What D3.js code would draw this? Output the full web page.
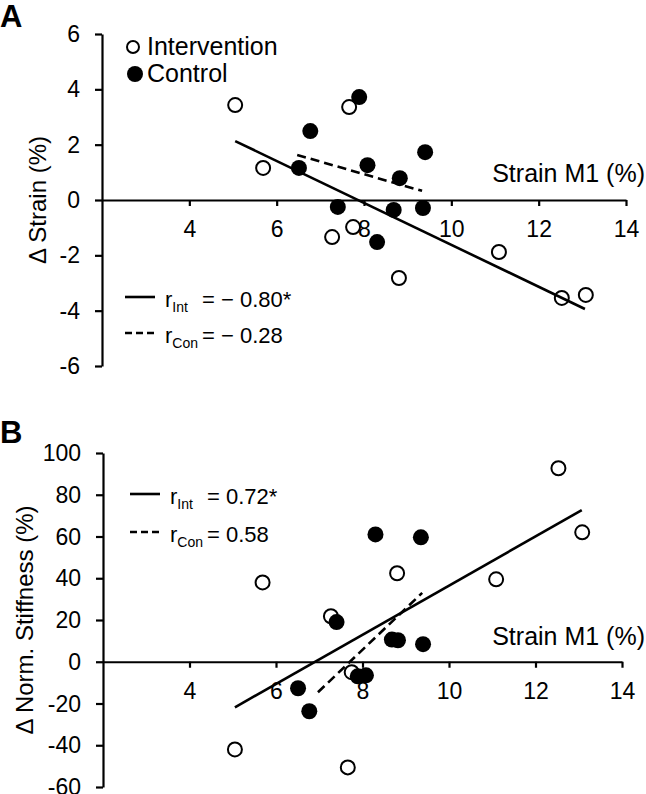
<!DOCTYPE html>
<html>
<head>
<meta charset="utf-8">
<script src="https://cdn.jsdelivr.net/npm/d3@7/dist/d3.min.js"></script>
<style>
  html, body { margin: 0; padding: 0; background: #fff; }
  svg { display: block; }
  text { font-family: "Liberation Sans", Arial, sans-serif; fill: #000; }
</style>
</head>
<body>
<svg id="chart" width="646" height="794"></svg>
<script>
// ---------------- DATA ----------------
const xTicks = [4, 6, 8, 10, 12, 14];
const yTicksA = [-6, -4, -2, 0, 2, 4, 6];
const yTicksB = [-60, -40, -20, 0, 20, 40, 60, 80, 100];

// Intervention group (open circles)
const intStrainM1   = [5.05, 5.69, 7.27, 7.66, 7.75, 8.80, 11.09, 12.53, 13.08];
const intDeltaStrain = [3.43, 1.16, -1.34, 3.36, -0.98, -2.82, -1.88, -3.54, -3.43];
const intDeltaStiff  = [-42.0, 38.0, 21.8, -50.6, -5.0, 42.4, 39.5, 92.7, 62.0];

// Control group (filled circles)
const conStrainM1    = [6.51, 6.77, 7.40, 7.89, 8.08, 8.30, 8.68, 8.82, 9.35, 9.40];
const conDeltaStrain = [1.16, 2.49, -0.25, 3.72, 1.26, -1.52, -0.36, 0.79, -0.29, 1.73];
const conDeltaStiff  = [-12.7, -23.7, 19.0, -7.0, -6.5, 61.0, 10.6, 10.3, 59.6, 8.4];

// Regression lines (endpoints)
const fitIntA = [[5.05, 2.13], [13.06, -3.94]];
const fitConA = [[6.47, 1.63], [9.33, 0.33]];
const fitIntB = [[5.05, -21.8], [13.07, 72.6]];
const fitConB = [[6.97, -14.6], [9.38, 33.0]];

const legendGroups = ["Intervention", "Control"];
const statsA = [{name: "Int", val: "= \u2212 0.80*"}, {name: "Con", val: "= \u2212 0.28"}];
const statsB = [{name: "Int", val: "= 0.72*"}, {name: "Con", val: "= 0.58"}];

// ---------------- DRAW ----------------
const svg = d3.select("#chart");
const zipPts = (xs, ys) => xs.map((x, i) => [x, ys[i]]);

function panel(cfg) {
  const g = svg.append("g");
  const x = d3.scaleLinear().domain([2, 14]).range(cfg.xr);
  const y = d3.scaleLinear().domain(cfg.ydom).range(cfg.yr);

  // x axis at y = 0
  const xa = g.append("g")
    .attr("transform", `translate(0,${y(0)})`)
    .call(d3.axisBottom(x).tickValues(xTicks).tickSize(6).tickSizeOuter(0).tickPadding(15).tickFormat(d => String(d)));
  // y axis
  const ya = g.append("g")
    .attr("transform", `translate(${x(2)},0)`)
    .call(d3.axisLeft(y).tickValues(cfg.yTicks).tickSize(7).tickSizeOuter(0).tickPadding(15).tickFormat(d => String(d)));
  [xa, ya].forEach(a => {
    a.select(".domain").attr("stroke", "#000").attr("stroke-width", 2.2);
    a.selectAll(".tick line").attr("stroke", "#000").attr("stroke-width", 2.2);
    a.selectAll(".tick text").style("font-size", "23px").attr("fill", "#000")
      .style("font-family", "'Liberation Sans', Arial, sans-serif");
  });
  ya.selectAll(".tick text").attr("dy", "0.33em");

  // axis titles
  g.append("text").attr("x", 645).attr("y", cfg.xTitleY).attr("text-anchor", "end")
    .style("font-size", "25px").text("Strain M1 (%)");
  g.append("text")
    .attr("transform", `translate(${cfg.yTitleX},${(cfg.yr[0] + cfg.yr[1]) / 2}) rotate(-90)`)
    .attr("text-anchor", "middle").style("font-size", "24px").text(cfg.yTitle);

  // panel letter
  g.append("text").attr("x", 0).attr("y", cfg.letterY).style("font-size", "31px")
    .style("font-weight", "bold").text(cfg.letter);

  // points
  g.selectAll("circle.int").data(zipPts(intStrainM1, cfg.intY)).join("circle")
    .attr("class", "int").attr("cx", d => x(d[0])).attr("cy", d => y(d[1])).attr("r", 7)
    .attr("fill", "#fff").attr("stroke", "#000").attr("stroke-width", 2);
  g.selectAll("circle.con").data(zipPts(conStrainM1, cfg.conY)).join("circle")
    .attr("class", "con").attr("cx", d => x(d[0])).attr("cy", d => y(d[1])).attr("r", 8)
    .attr("fill", "#000");

  // fit lines
  const line = d3.line().x(d => x(d[0])).y(d => y(d[1]));
  g.append("path").attr("d", line(cfg.fitInt)).attr("stroke", "#000").attr("stroke-width", 2.6).attr("fill", "none");
  g.append("path").attr("d", line(cfg.fitCon)).attr("stroke", "#000").attr("stroke-width", 2.6)
    .attr("stroke-dasharray", "9,5").attr("fill", "none");

  // stats legend
  cfg.stats.forEach((s, i) => {
    const ly = cfg.statY + i * cfg.statGap;
    g.append("line").attr("x1", cfg.statX).attr("x2", cfg.statX + 30).attr("y1", ly).attr("y2", ly)
      .attr("stroke", "#000").attr("stroke-width", 2.6)
      .attr("stroke-dasharray", i === 0 ? null : "7,4");
    const t = g.append("text").attr("x", cfg.statX + 40).attr("y", ly + 10).style("font-size", "22px");
    t.append("tspan").text("r");
    t.append("tspan").attr("dy", 5).style("font-size", "14px").text(s.name);
    t.append("tspan").attr("x", cfg.statX + cfg.eqOff).attr("dy", -5).text(s.val);
  });
  return {g, x, y};
}

const A = panel({
  xr: [102, 626], ydom: [-6, 6], yr: [366, 34], yTicks: yTicksA,
  intY: intDeltaStrain, conY: conDeltaStrain, fitInt: fitIntA, fitCon: fitConA,
  xTitleY: 182, yTitle: "\u0394 Strain (%)", yTitleX: 46, letter: "A", letterY: 27,
  stats: statsA, statX: 125, statY: 297, statGap: 36, eqOff: 77
});
const B = panel({
  xr: [103, 622], ydom: [-60, 100], yr: [787, 453], yTicks: yTicksB,
  intY: intDeltaStiff, conY: conDeltaStiff, fitInt: fitIntB, fitCon: fitConB,
  xTitleY: 645, yTitle: "\u0394 Norm. Stiffness (%)", yTitleX: 33, letter: "B", letterY: 443,
  stats: statsB, statX: 130, statY: 494, statGap: 38, eqOff: 77
});

// group legend (panel A)
const lg = svg.append("g");
legendGroups.forEach((name, i) => {
  const cy = 47 + i * 27;
  if (i === 0) {
    lg.append("circle").attr("cx", 133).attr("cy", cy).attr("r", 6).attr("fill", "#fff")
      .attr("stroke", "#000").attr("stroke-width", 2);
  } else {
    lg.append("circle").attr("cx", 135).attr("cy", cy).attr("r", 8).attr("fill", "#000");
  }
  lg.append("text").attr("x", 147).attr("y", cy + 8).style("font-size", "25px").text(name);
});
</script>
</body>
</html>
